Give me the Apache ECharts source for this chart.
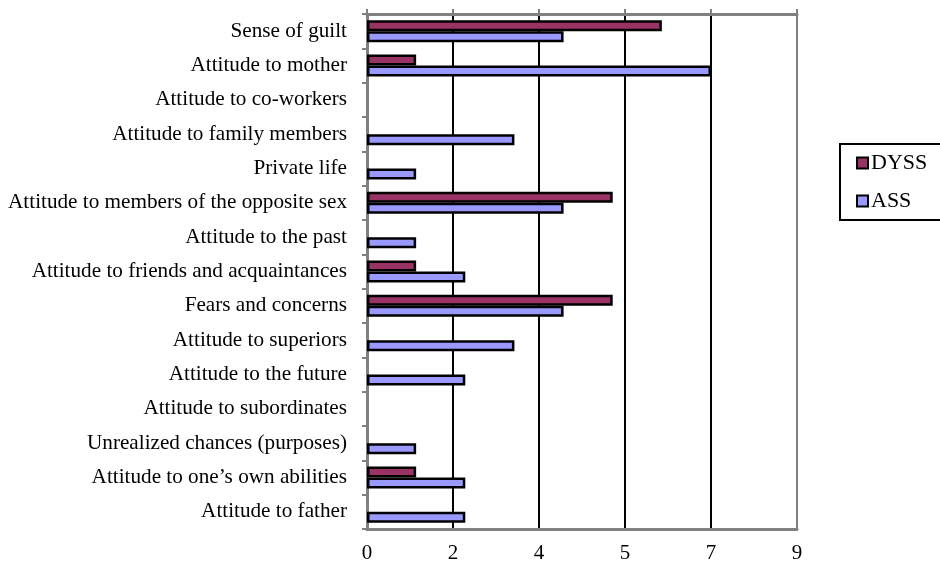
<!DOCTYPE html>
<html>
<head>
<meta charset="utf-8">
<script src="https://cdn.jsdelivr.net/npm/echarts@6/dist/echarts.min.js"></script>
<style>
  html, body { margin: 0; padding: 0; background: #fff; }
  #main { width: 940px; height: 564px; }
</style>
</head>
<body>
<div id="main"></div>
<script>
// categories, bottom to top like the original
var categories = [
  'Attitude to father',
  'Attitude to one\u2019s own abilities',
  'Unrealized chances (purposes)',
  'Attitude to subordinates',
  'Attitude to the future',
  'Attitude to superiors',
  'Fears and concerns',
  'Attitude to friends and acquaintances',
  'Attitude to the past',
  'Attitude to members of the opposite sex',
  'Private life',
  'Attitude to family members',
  'Attitude to co-workers',
  'Attitude to mother',
  'Sense of guilt'
];
var dyss = [0, 1, 0, 0, 0, 0, 5, 1, 0, 5, 0, 0, 0, 1, 6];
var ass = [2, 2, 1, 0, 2, 3, 4, 2, 1, 4, 1, 3, 0, 7, 4];
var tickLabels = ['0', '2', '4', '5', '7', '9'];

// empty cells draw nothing (no black stub at zero)
function noZero(arr) {
  return arr.map(function (v) { return v === 0 ? '-' : v; });
}

var chart = echarts.init(document.getElementById('main'));
var font = '"Liberation Serif", "Times New Roman", serif';

chart.setOption({
  animation: false,
  textStyle: { fontFamily: font },
  grid: { left: 367, top: 14, right: 143, bottom: 34 },
  legend: {
    orient: 'vertical',
    left: 840, top: 144,
    padding: [8, 40, 8, 16],
    itemGap: 16,
    itemWidth: 11, itemHeight: 11,
    icon: 'rect',
    borderColor: '#000', borderWidth: 2,
    itemStyle: { borderColor: '#000', borderWidth: 2 },
    textStyle: { fontFamily: font, fontSize: 22, color: '#000', padding: [0, 0, 0, -2] },
    data: ['DYSS', 'ASS']
  },
  xAxis: [{
    type: 'value',
    min: 0, max: 8.75, interval: 1.75,
    axisLine: { show: true, lineStyle: { color: '#808080', width: 3 } },
    axisTick: { show: false },
    axisLabel: {
      color: '#000', fontSize: 21, fontFamily: font, margin: 14,
      formatter: function (v) { return tickLabels[Math.round(v / 1.75)]; }
    },
    splitLine: {
      show: true,
      lineStyle: { color: ['#808080', '#000', '#000', '#000', '#000', '#808080'], width: 2 }
    }
  }, {
    type: 'value', position: 'top',
    min: 0, max: 8.75, interval: 1.75,
    axisLine: { show: true, lineStyle: { color: '#808080', width: 3 } },
    axisTick: { show: true, inside: false, length: 5, lineStyle: { color: '#808080', width: 2 } },
    axisLabel: { show: false },
    splitLine: { show: false }
  }],
  yAxis: {
    type: 'category',
    data: categories,
    axisLine: { show: true, lineStyle: { color: '#808080', width: 3 } },
    axisTick: { show: true, length: 5, lineStyle: { color: '#808080', width: 2 } },
    axisLabel: { color: '#000', fontSize: 21.2, fontFamily: font, margin: 20, padding: [6, 0, 0, 0] }
  },
  series: [{
    name: 'DYSS', type: 'bar', data: noZero(dyss),
    barWidth: 11, barGap: '0%',
    itemStyle: { color: '#993366', borderColor: '#000', borderWidth: 2.5 }
  }, {
    name: 'ASS', type: 'bar', data: noZero(ass),
    barWidth: 11, barGap: '0%',
    itemStyle: { color: '#9999ff', borderColor: '#000', borderWidth: 2.5 }
  }]
});
</script>
</body>
</html>
